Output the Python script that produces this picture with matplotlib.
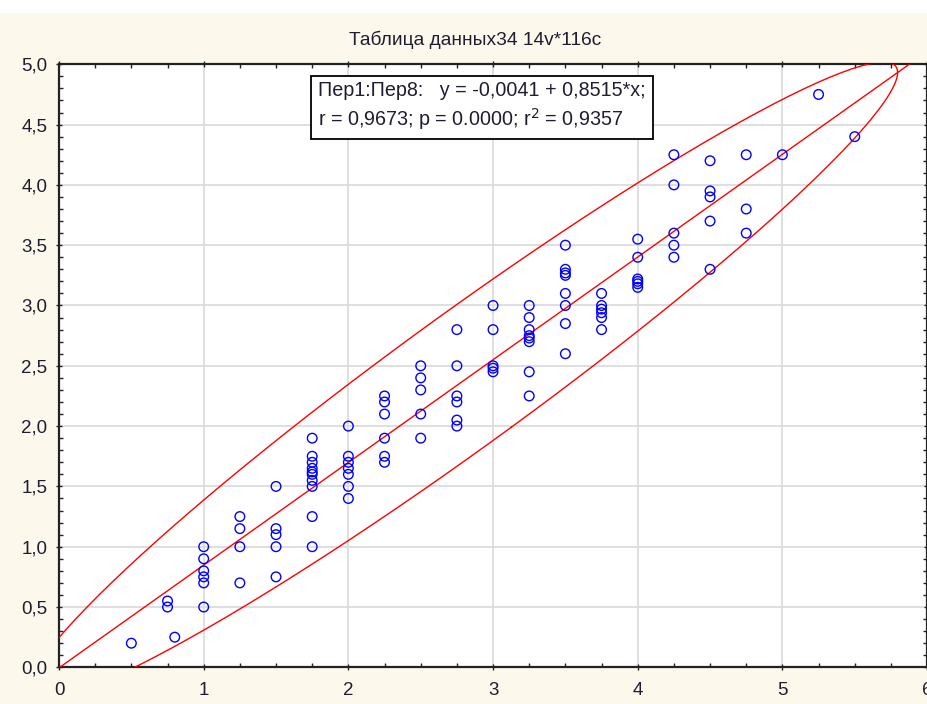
import numpy as np
import matplotlib
matplotlib.use("Agg")
import matplotlib.pyplot as plt
from matplotlib.ticker import MultipleLocator, FuncFormatter
import matplotlib.patches as mpatches

plt.rcParams.update({
    "font.family": ["Liberation Sans", "DejaVu Sans"],
    "font.size": 12,
})

# data: Пер1 (x) grouped by level, Пер8 (y) values
x_levels = [0.5, 0.75, 0.8, 1.0, 1.25, 1.5, 1.75, 2.0, 2.25, 2.5, 2.75,
            3.0, 3.25, 3.5, 3.75, 4.0, 4.25, 4.5, 4.75, 5.0, 5.25, 5.5]
y_groups = [
    [0.2],
    [0.55, 0.5],
    [0.25],
    [1.0, 0.9, 0.8, 0.75, 0.7, 0.5],
    [1.25, 1.15, 1.0, 0.7],
    [1.5, 1.15, 1.1, 1.0, 0.75],
    [1.9, 1.75, 1.7, 1.65, 1.62, 1.6, 1.55, 1.5, 1.25, 1.0],
    [2.0, 1.75, 1.7, 1.65, 1.6, 1.5, 1.4],
    [2.25, 2.2, 2.1, 1.9, 1.75, 1.7],
    [2.5, 2.4, 2.3, 2.1, 1.9],
    [2.8, 2.5, 2.25, 2.2, 2.05, 2.0],
    [3.0, 2.8, 2.5, 2.48, 2.45],
    [3.0, 2.9, 2.8, 2.75, 2.73, 2.7, 2.45, 2.25],
    [3.5, 3.3, 3.27, 3.25, 3.1, 3.0, 2.85, 2.6],
    [3.1, 3.0, 2.97, 2.94, 2.9, 2.8],
    [3.55, 3.4, 3.22, 3.2, 3.18, 3.15],
    [4.25, 4.0, 3.6, 3.5, 3.4],
    [4.2, 3.95, 3.9, 3.7, 3.3],
    [4.25, 3.8, 3.6],
    [4.25],
    [4.75],
    [4.4],
]
per1 = np.concatenate([[xv] * len(g) for xv, g in zip(x_levels, y_groups)])
per8 = np.concatenate(y_groups)

# regression shown in the chart's box
b0, b1 = -0.0041, 0.8515
r_val, p_val, r2_val = 0.9673, 0.0000, 0.9357
ell_coef = 6.2  # 95% ellipse, 2*(n-1)/(n-2)*F(0.95; 2, n-2) with n=116

CREAM = "#fdf8ec"
BLUE = "#0000ff"
RED = "#ff0000"
TXT = "#1e1e30"

fig = plt.figure(figsize=(9.28, 7.04), dpi=100, facecolor=CREAM)
fig.patches.append(mpatches.Rectangle((0, 0.982), 1, 0.018, transform=fig.transFigure,
                                      fc="white", ec="none", zorder=0))
ax = fig.add_axes([0.0636, 0.0521, 0.9354, 0.8566])
ax.set_facecolor("white")

ax.scatter(per1, per8, s=48, facecolors="none", edgecolors=BLUE, linewidths=1.0,
           zorder=4, clip_on=False)

xs = np.linspace(0, 6, 50)
ax.plot(xs, b0 + b1 * xs, color=RED, lw=1.0, zorder=3)

# ellipse: mean and sd of x from the sample, y consistent with the
# fitted line and the reported r
mx = per1.mean()
sx = per1.std(ddof=1)
my = b0 + b1 * mx
sy = b1 * sx / r_val
cov = np.array([[sx**2, r_val * sx * sy], [r_val * sx * sy, sy**2]])
vals, vecs = np.linalg.eigh(cov)
t = np.linspace(0, 2 * np.pi, 240)
circ = np.vstack([np.cos(t), np.sin(t)])
ell = vecs @ (np.sqrt(vals * ell_coef)[:, None] * circ) + np.array([[mx], [my]])
ax.plot(ell[0], ell[1], color=RED, lw=1.0, zorder=3)

ax.set_xlim(0, 6)
ax.set_ylim(0, 5)
ax.xaxis.set_major_locator(MultipleLocator(1))
ax.xaxis.set_minor_locator(MultipleLocator(0.25))
ax.yaxis.set_major_locator(MultipleLocator(0.5))
ax.yaxis.set_minor_locator(MultipleLocator(0.1))
ax.yaxis.set_major_formatter(FuncFormatter(lambda v, _: f"{v:.1f}".replace(".", ",")))
ax.xaxis.set_major_formatter(FuncFormatter(lambda v, _: f"{v:.0f}"))
ax.grid(True, which="major", color="#dcdcdc", lw=1.3)
ax.set_axisbelow(True)
ax.tick_params(which="major", direction="inout", length=5, width=1.0, color="#222222",
               top=True, right=True, labeltop=False, labelright=False,
               labelsize=13.5, labelcolor=TXT)
ax.tick_params(axis="x", which="major", pad=8)
ax.tick_params(axis="y", which="major", pad=6)
ax.tick_params(which="minor", direction="in", length=3, width=1.0, color="#222222",
               top=True, right=True)
for sp in ax.spines.values():
    sp.set_color("#222222")
    sp.set_linewidth(1.6)

fig.text(0.512, 0.943, "Таблица данных34 14v*116c", ha="center", va="center",
         fontsize=13.8, color=TXT)

label = (f"Пер1:Пер8:   y = {b0:.4f} + {b1:.4f}*x;\n".replace(".", ",")
         + f"r = {r_val:.4f}; ".replace(".", ",") + f"p = {p_val:.4f}; "
         + f"r$^2$ = {r2_val:.4f}".replace(".", ","))
ax.text(1.79, 4.65, label, fontsize=14.2, color=TXT,
        ha="left", va="center", linespacing=1.35,
        bbox=dict(boxstyle="square,pad=0.35", fc="white", ec="black", lw=1.3),
        zorder=6)

fig.savefig("out.png", dpi=100, facecolor=CREAM)
